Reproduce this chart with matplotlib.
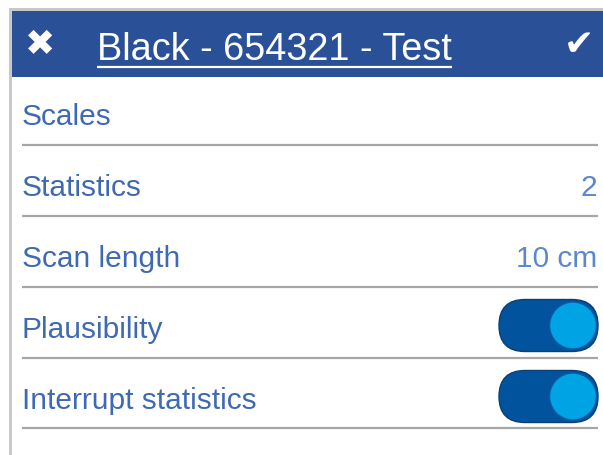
import matplotlib
matplotlib.use("Agg")
import matplotlib.pyplot as plt
from matplotlib.patches import FancyBboxPatch, Rectangle, Circle

title = "Black - 654321 - Test"
labels = ["Scales", "Statistics", "Scan length", "Plausibility", "Interrupt statistics"]
values = ["", "2", "10 cm", "", ""]
toggles = [False, False, False, True, True]

W, H = 603, 456
fig = plt.figure(figsize=(W / 100, H / 100), dpi=100)
ax = fig.add_axes([0, 0, 1, 1])
ax.set_xlim(0, W)
ax.set_ylim(H, 0)
ax.axis("off")

font = "Liberation Sans"
header_col = "#2A5198"
text_col = "#3F69B3"
value_col = "#5B87D0"

# frame
ax.add_patch(Rectangle((9, 9), W, 3, color="#C8C8C8", lw=0))
ax.add_patch(Rectangle((9, 9), 3, H, color="#C8C8C8", lw=0))
# header
ax.add_patch(Rectangle((12, 12), W - 12, 66, color=header_col, lw=0))
ax.text(40, 45, "\u2716", color="white", fontsize=26, family="DejaVu Sans",
        ha="center", va="center")
ax.text(579, 45, "\u2714", color="white", fontsize=26, family="DejaVu Sans",
        ha="center", va="center")
t = ax.text(97, 60, title, color="white", fontsize=27.3, family=font,
            ha="left", va="baseline")
fig.canvas.draw()
bb = t.get_window_extent().transformed(ax.transData.inverted())
ax.plot([bb.x0, bb.x1], [67.5, 67.5], color="white", lw=1.6, solid_capstyle="butt")

row_h = 71
first_line = 145.5
for i, (lab, val, tog) in enumerate(zip(labels, values, toggles)):
    line_y = first_line + i * row_h
    base = line_y - 20.5
    ax.text(22, base, lab, color=text_col, fontsize=21.5, family=font,
            ha="left", va="baseline")
    if val:
        ax.text(597, base, val, color=value_col, fontsize=21.5, family=font,
                ha="right", va="baseline")
    if tog:
        cy = line_y - 32
        ax.add_patch(FancyBboxPatch((499, cy - 26), 99, 52,
                                    boxstyle="round,pad=0,rounding_size=26",
                                    fc="#00539C", ec="#0A3F78", lw=1))
        ax.add_patch(Circle((573, cy), 23.5, fc="#00A3E4", ec="#0A5AA0", lw=1))
    ax.plot([22, 598], [line_y, line_y], color="#A6A6A6", lw=1.6,
            solid_capstyle="butt")

fig.savefig("out.png", dpi=100)
